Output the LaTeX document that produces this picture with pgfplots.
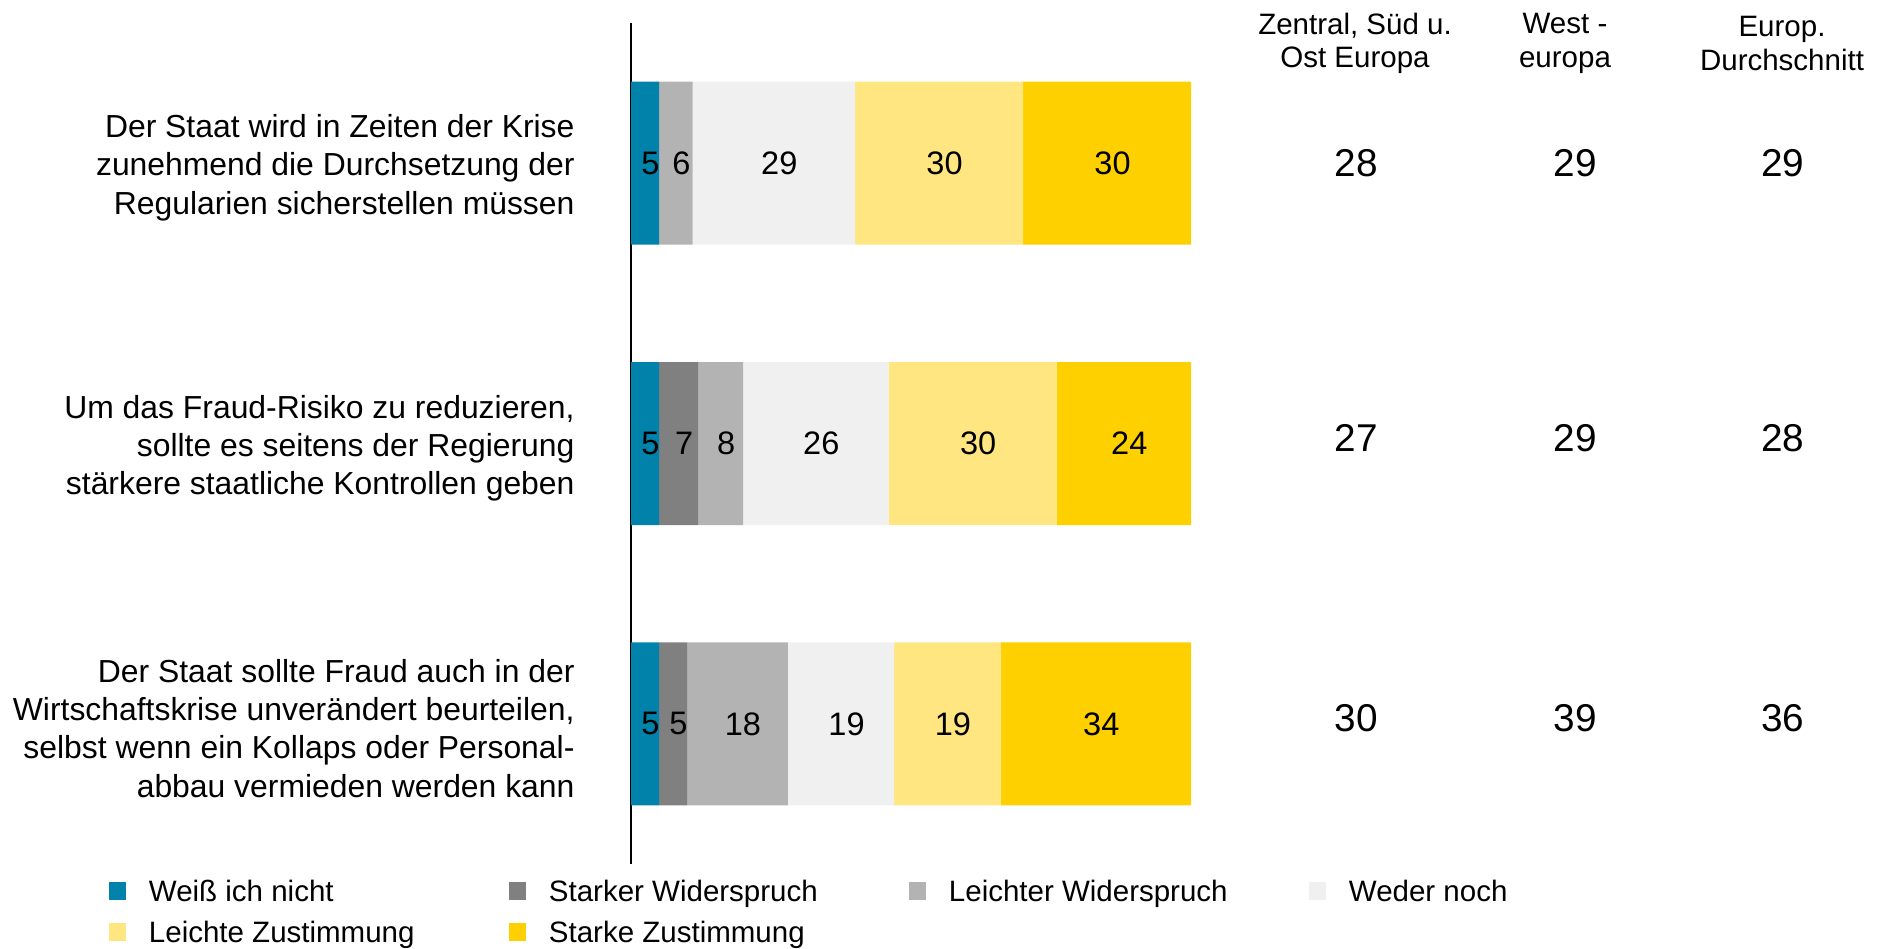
\documentclass[border=0pt]{standalone}
\usepackage{pgfplots}
\pgfplotsset{compat=1.18}
\usepackage{fontspec}
\setmainfont{Liberation Sans}
\definecolor{cBlue}{HTML}{0082AA}
\definecolor{cDark}{HTML}{808080}
\definecolor{cLight}{HTML}{B3B3B3}
\definecolor{cWeder}{HTML}{F0F0F0}
\definecolor{cLZ}{HTML}{FFE680}
\definecolor{cSZ}{HTML}{FFD000}
\pgfplotsset{samegeom/.style={
  at={(252.4pt,-345.6pt)}, anchor=south west,
  scale only axis, width=224pt, height=336.4pt,
  xmin=0, xmax=100, ymin=-0.5, ymax=2.5, y dir=reverse, clip=false}}
\begin{document}
\begin{tikzpicture}[x=1pt,y=1pt]
\useasboundingbox (0,0) rectangle (754,-379.6);
\begin{axis}[
  samegeom,
  xbar stacked, bar width=65.2pt,
  axis x line=none, axis y line*=left,
  y axis line style={black, line width=0.8pt},
  ytick={0,1,2},
  yticklabels={
    {Der Staat wird in Zeiten der Krise\\zunehmend die Durchsetzung der\\Regularien sicherstellen müssen},
    {Um das Fraud-Risiko zu reduzieren,\\sollte es seitens der Regierung\\stärkere staatliche Kontrollen geben},
    {Der Staat sollte Fraud auch in der\\Wirtschaftskrise unverändert beurteilen,\\selbst wenn ein Kollaps oder Personal-\\abbau vermieden werden kann}},
  major tick length=0pt,
  yticklabel style={align=right, inner sep=0pt, xshift=-22.4pt, yshift=-1.8pt, font=\fontsize{12.75}{15.3}\selectfont},
  legend columns=4,
  legend cell align=left,
  legend image code/.code={\fill[#1] (0pt,0.6pt) rectangle (7.0pt,7.6pt);},
  legend style={at={(-0.9465,-0.0122)}, anchor=north west, draw=none, fill=none,
    font=\fontsize{11.8}{14}\selectfont,
    nodes={inner sep=0pt, text height=8.6pt, text depth=2.4pt, anchor=base west},
    column sep=0pt, row sep=5.4pt,
    /tikz/every odd column/.append style={column sep=9pt}},
]
\addplot[fill=cBlue, draw=none] coordinates {(5,0) (5,1) (5,2)};
\addlegendentry{\makebox[144pt][l]{Weiß ich nicht}}
\addplot[fill=cDark, draw=none] coordinates {(0,0) (7,1) (5,2)};
\addlegendentry{\makebox[144pt][l]{Starker Widerspruch}}
\addplot[fill=cLight, draw=none] coordinates {(6,0) (8,1) (18,2)};
\addlegendentry{\makebox[144pt][l]{Leichter Widerspruch}}
\addplot[fill=cWeder, draw=none] coordinates {(29,0) (26,1) (19,2)};
\addlegendentry{Weder noch}
\addplot[fill=cLZ, draw=none] coordinates {(30,0) (30,1) (19,2)};
\addlegendentry{\makebox[144pt][l]{Leichte Zustimmung}}
\addplot[fill=cSZ, draw=none] coordinates {(30,0) (24,1) (34,2)};
\addlegendentry{\makebox[144pt][l]{Starke Zustimmung}}
\end{axis}
\begin{axis}[samegeom, hide axis]
% value labels at the centre of each segment
\addplot[draw=none, mark=none, point meta=explicit symbolic, nodes near coords,
  every node near coord/.style={anchor=center, inner sep=0pt, xshift=2.2pt, font=\fontsize{13}{15}\selectfont, text=black}]
  coordinates {
  (2.5,0) [5] (8,0) [6] (25.5,0) [29] (55,0) [30] (85,0) [30]
  (2.5,1) [5] (8.5,1) [7] (16,1) [8] (33,1) [26] (61,1) [30] (88,1) [24]
  (2.5,2) [5] (7.5,2) [5] (19,2) [18] (37.5,2) [19] (56.5,2) [19] (83,2) [34]};
% regional averages
\addplot[draw=none, mark=none, point meta=explicit symbolic, nodes near coords,
  every node near coord/.style={anchor=center, inner sep=0pt, font=\fontsize{15.5}{18}\selectfont, text=black}]
  coordinates {
  (129.5,0) [28] (168.6,0) [29] (205.7,0) [29]
  (129.5,0.98) [27] (168.6,0.98) [29] (205.7,0.98) [28]
  (129.5,1.98) [30] (168.6,1.98) [39] (205.7,1.98) [36]};
\end{axis}
\begin{scope}[font=\fontsize{11.8}{13.5}\selectfont]
\node[align=center] at (542,-17.4) {Zentral, Süd u.\\Ost Europa};
\node[align=center] at (626,-17.4) {West -\\europa};
\node[align=center] at (712.8,-17.4) {Europ.\\Durchschnitt};
\end{scope}
\end{tikzpicture}
\end{document}
